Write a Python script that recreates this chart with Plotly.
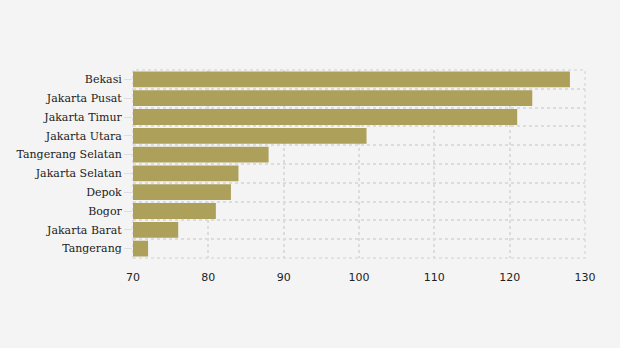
import plotly.graph_objects as go

# Regions ordered from top to bottom
regions = [
    "Bekasi", "Jakarta Pusat", "Jakarta Timur", "Jakarta Utara",
    "Tangerang Selatan", "Jakarta Selatan", "Depok", "Bogor",
    "Jakarta Barat", "Tangerang",
]
values = [128, 123, 121, 101, 88, 84, 83, 81, 76, 72]
x_ticks = [70, 80, 90, 100, 110, 120, 130]

positions = list(range(len(regions)))
base = 70

fig = go.Figure(
    go.Bar(
        y=positions,
        x=[v - base for v in values],
        base=base,
        orientation="h",
        marker=dict(color="#ADA05A", line=dict(width=0)),
        width=0.84,
        hoverinfo="skip",
    )
)

grid_color = "#DCDCDC"

fig.update_layout(
    width=620,
    height=348,
    margin=dict(l=133, r=35, t=70, b=90),
    paper_bgcolor="#F4F4F4",
    plot_bgcolor="#F4F4F4",
    showlegend=False,
    xaxis=dict(
        range=[70, 130],
        tickvals=x_ticks,
        showgrid=True,
        gridcolor=grid_color,
        griddash="dot",
        gridwidth=1.5,
        zeroline=False,
        showline=False,
        ticks="",
        tickfont=dict(family="DejaVu Sans", size=11, color="#222222"),
        ticklabelstandoff=11,
        fixedrange=True,
    ),
    yaxis=dict(
        range=[len(regions) - 0.5, -0.5],
        tickvals=positions,
        ticktext=regions,
        showgrid=False,
        zeroline=False,
        showline=False,
        ticks="outside",
        ticklen=8,
        tickwidth=1,
        tickcolor="#DEDEDE",
        tickfont=dict(family="DejaVu Serif", size=11, color="#222222"),
        minor=dict(
            tick0=0.5,
            dtick=1,
            showgrid=True,
            gridcolor=grid_color,
            griddash="dot",
            gridwidth=1.5,
            ticks="",
        ),
        fixedrange=True,
    ),
    # dotted frame around the plotting area
    shapes=[
        dict(
            type="rect",
            xref="paper", yref="paper",
            x0=0, y0=0, x1=1, y1=1,
            line=dict(color=grid_color, width=1.5, dash="dot"),
            fillcolor="rgba(0,0,0,0)",
            layer="below",
        )
    ],
)

fig.write_html("out.html")
